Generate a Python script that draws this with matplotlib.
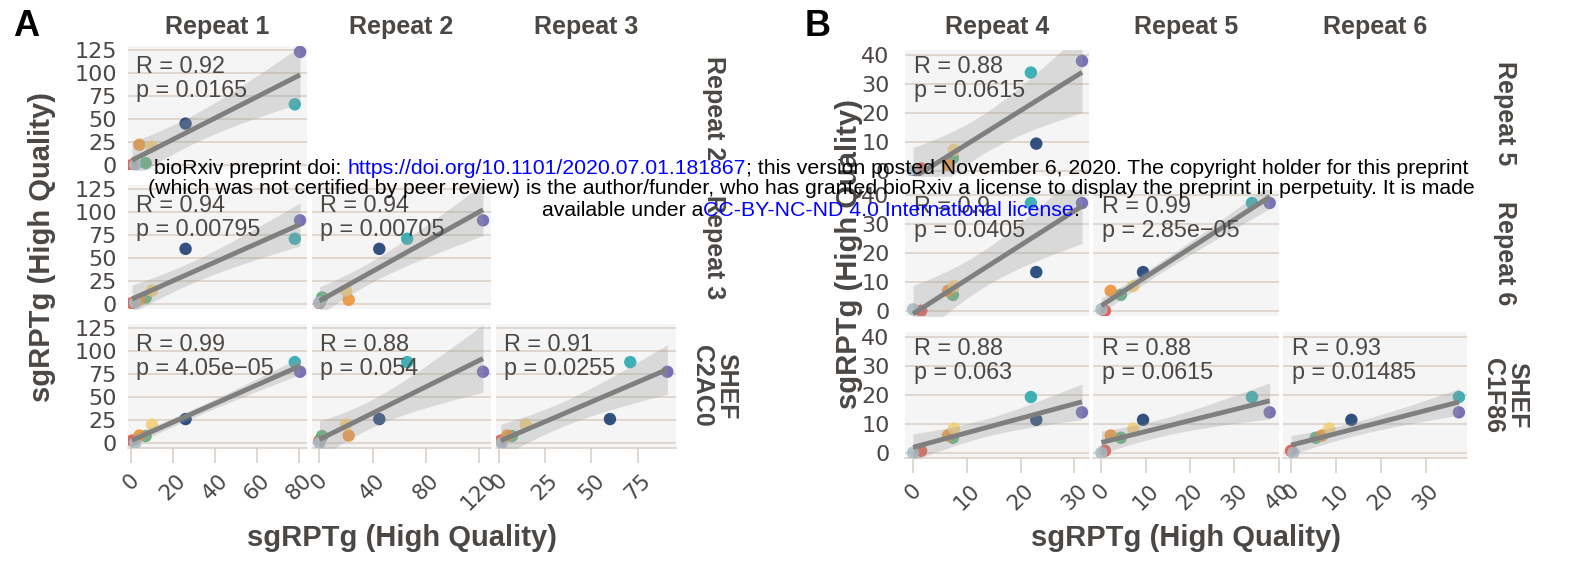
# pairs plot: sgRPTg high-quality repeats, panels A and B
import numpy as np
import matplotlib
matplotlib.use("Agg")
import matplotlib.pyplot as plt

plt.rcParams["font.family"] = ["Liberation Sans", "DejaVu Sans"]

W, H = 1581, 564

# ------------------------------------------------------------
# Data (one value per sample, same order as point_colors)
# ------------------------------------------------------------
point_colors = ["#E0574B", "#5BAD78", "#EE9437", "#F4CF7A",
                "#A9BCC4", "#1D3F73", "#2BA9B0", "#6B63B1"]

rep1 = [0.5, 7, 4, 10, 2, 26, 78, 80.5]
rep2 = [0, 2, 22, 20, 0, 45, 66, 123]
rep3 = [1, 7, 4.5, 14.5, 1.5, 60, 71, 91]
shef_c2ac0 = [2.5, 7.5, 8, 20, 0, 26, 88, 77.5]

rep4 = [1.5, 7.4, 6.5, 7.6, 0, 22.9, 21.9, 31.4]
rep5 = [0.8, 4.4, 2.1, 7.2, 0, 9.4, 34, 38]
rep6 = [0, 5.5, 6.9, 8.5, 0.5, 13.4, 37.3, 37.3]
shef_c1f86 = [0.7, 5.2, 6, 8.4, 0, 11.4, 19.3, 14]

col_titles_a = ["Repeat 1", "Repeat 2", "Repeat 3"]
row_titles_a = ["Repeat 2", "Repeat 3", "SHEF\nC2AC0"]
col_titles_b = ["Repeat 4", "Repeat 5", "Repeat 6"]
row_titles_b = ["Repeat 5", "Repeat 6", "SHEF\nC1F86"]

# (row, col) -> (R, p) labels
stats_a = {
    (0, 0): ("0.92", "0.0165"),
    (1, 0): ("0.94", "0.00795"),
    (1, 1): ("0.94", "0.00705"),
    (2, 0): ("0.99", "4.05e\u221205"),
    (2, 1): ("0.88", "0.054"),
    (2, 2): ("0.91", "0.0255"),
}
stats_b = {
    (0, 0): ("0.88", "0.0615"),
    (1, 0): ("0.9", "0.0405"),
    (1, 1): ("0.99", "2.85e\u221205"),
    (2, 0): ("0.88", "0.063"),
    (2, 1): ("0.88", "0.0615"),
    (2, 2): ("0.93", "0.01485"),
}

xticks_a = [[0, 20, 40, 60, 80], [0, 40, 80, 120], [0, 25, 50, 75]]
yticks_a = [0, 25, 50, 75, 100, 125]
xticks_b = [[0, 10, 20, 30], [0, 10, 20, 30, 40], [0, 10, 20, 30]]
yticks_b = [0, 10, 20, 30, 40]

# ------------------------------------------------------------
# Style / layout (pixels)
# ------------------------------------------------------------
TXT = "#4b4745"
GRID = "#d9cec4"
BG = "#f5f5f5"
TICK_FONT = "DejaVu Sans"   # wide digits, closer to the original

cols_a = [(128, 307), (312, 491), (496, 676)]
rows_a = [(46, 170), (185, 309), (324, 448)]
xlims_a = [(-1.4, 83.8), (-5.6, 129.0), (-1.6, 95.7)]
ylim_a = (-5.5, 129.5)

cols_b = [(905, 1089), (1093, 1279), (1283, 1467)]
rows_b = [(50, 176), (190, 316), (332, 458)]
xlims_b = [(-1.5, 32.7), (-1.9, 40.1), (-1.8, 39.1)]
ylim_b = (-1.8, 41.8)


def px_axes(fig, xr, yr):
    x0, x1 = xr
    y0, y1 = yr
    return fig.add_axes([x0 / W, 1 - y1 / H, (x1 - x0) / W, (y1 - y0) / H])


def lm_band(x, y, n=80):
    x = np.asarray(x, float)
    y = np.asarray(y, float)
    b1, b0 = np.polyfit(x, y, 1)
    xs = np.linspace(x.min(), x.max(), n)
    fit = b0 + b1 * xs
    resid = y - (b0 + b1 * x)
    s = np.sqrt(np.sum(resid ** 2) / (len(x) - 2))
    se = s * np.sqrt(1 / len(x) + (xs - x.mean()) ** 2 / np.sum((x - x.mean()) ** 2))
    t = 2.447  # t(0.975, df=6)
    return xs, fit, fit - t * se, fit + t * se


def draw_block(fig, variables, cols, rows, xlims, ylim, xticks, yticks,
               stats, ypad, txt_off):
    for i in range(3):
        for j in range(i + 1):
            ax = px_axes(fig, cols[j], rows[i])
            x = variables[j]
            y = variables[i + 1]
            ax.set_facecolor(BG)
            ax.scatter(x, y, s=80, c=point_colors, alpha=0.9,
                       linewidths=0, zorder=3)
            xs, fit, lo, hi = lm_band(x, y)
            ax.fill_between(xs, lo, hi, color="#9a9a9a", alpha=0.3,
                            linewidth=0, zorder=4)
            ax.plot(xs, fit, color="#7f7f7f", lw=3.5, zorder=5,
                    solid_capstyle="butt")
            ax.set_xlim(xlims[j])
            ax.set_ylim(ylim)
            ax.set_yticks(yticks)
            ax.set_xticks(xticks[j])
            ax.grid(axis="y", color=GRID, lw=1.1)
            ax.grid(axis="x", visible=False)
            ax.set_axisbelow(True)
            for sp in ax.spines.values():
                sp.set_visible(False)
            ax.tick_params(axis="y", length=0, pad=ypad, labelsize=16,
                           labelcolor=TXT, labelleft=(j == 0))
            for lab in ax.get_yticklabels():
                lab.set_family(TICK_FONT)
            if i == 2:
                ax.spines["bottom"].set_visible(True)
                ax.spines["bottom"].set_color(GRID)
                ax.spines["bottom"].set_linewidth(1.1)
                ax.tick_params(axis="x", length=11, width=1.1, color=GRID,
                               pad=5, labelsize=15.5, labelcolor=TXT,
                               labelrotation=45)
                for lab in ax.get_xticklabels():
                    lab.set_ha("center")
                    lab.set_family(TICK_FONT)
            else:
                ax.tick_params(axis="x", length=0, labelbottom=False)
            r, p = stats[(i, j)]
            h = rows[i][1] - rows[i][0]
            tx = txt_off[0] / (cols[j][1] - cols[j][0])
            ax.text(tx, 1 - txt_off[1] / h, f"R = {r}", transform=ax.transAxes,
                    fontsize=16.8, color=TXT, va="baseline", ha="left", zorder=6)
            ax.text(tx, 1 - txt_off[2] / h, f"p = {p}", transform=ax.transAxes,
                    fontsize=16.8, color=TXT, va="baseline", ha="left", zorder=6)


def fig_text(fig, x, y, s, **kw):
    return fig.text(x / W, 1 - y / H, s, **kw)


def adv_width(fig, s, size):
    r = fig.canvas.get_renderer()
    t1 = fig.text(0, 0, "|" + s + "|", fontsize=size)
    t2 = fig.text(0, 0, "||", fontsize=size)
    w = t1.get_window_extent(r).width - t2.get_window_extent(r).width
    t1.remove()
    t2.remove()
    return w


def colored_line(fig, xc, y, parts, size=15.3):
    widths = [adv_width(fig, s, size) for s, _ in parts]
    x = xc - sum(widths) / 2
    for (s, c), w in zip(parts, widths):
        fig_text(fig, x, y, s, color=c, fontsize=size, ha="left",
                 va="center", zorder=20)
        x += w


def main():
    fig = plt.figure(figsize=(W / 100, H / 100), dpi=100)

    draw_block(fig, [rep1, rep2, rep3, shef_c2ac0], cols_a, rows_a, xlims_a,
               ylim_a, xticks_a, yticks_a, stats_a, 8, (8, 27, 51))
    draw_block(fig, [rep4, rep5, rep6, shef_c1f86], cols_b, rows_b, xlims_b,
               ylim_b, xticks_b, yticks_b, stats_b, 11, (9, 23, 47))

    strip = dict(fontsize=18, fontweight="bold", color=TXT, ha="center",
                 va="center")
    for cols, rows, ctitles, rtitles, rx in [
        (cols_a, rows_a, col_titles_a, row_titles_a, 714),
        (cols_b, rows_b, col_titles_b, row_titles_b, 1505),
    ]:
        for (x0, x1), t in zip(cols, ctitles):
            fig_text(fig, (x0 + x1) / 2, 27, t, **strip)
        for (y0, y1), t in zip(rows, rtitles):
            fig_text(fig, rx, (y0 + y1) / 2, t, rotation=-90,
                     multialignment="center", linespacing=1.0, **strip)

    title = dict(fontsize=21, fontweight="bold", color=TXT, ha="center",
                 va="center")
    fig_text(fig, 402, 538, "sgRPTg (High Quality)", **title)
    fig_text(fig, 1186, 538, "sgRPTg (High Quality)", **title)
    fig_text(fig, 42, 247, "sgRPTg (High Quality)", rotation=90, **title)
    fig_text(fig, 849, 254, "sgRPTg (High Quality)", rotation=90, **title)

    fig_text(fig, 26, 27, "A", fontsize=26, fontweight="bold", ha="center",
             va="center")
    fig_text(fig, 818, 27, "B", fontsize=26, fontweight="bold", ha="center",
             va="center")

    # bioRxiv watermark
    blue = "#0000ff"
    colored_line(fig, 811, 168, [
        ("bioRxiv preprint doi: ", "black"),
        ("https://doi.org/10.1101/2020.07.01.181867", blue),
        ("; this version posted November 6, 2020. The copyright holder for this preprint", "black"),
    ])
    colored_line(fig, 811, 189, [
        ("(which was not certified by peer review) is the author/funder, who has granted bioRxiv a license to display the preprint in perpetuity. It is made", "black"),
    ])
    colored_line(fig, 811, 211, [
        ("available under a", "black"),
        ("CC-BY-NC-ND 4.0 International license", blue),
        (".", "black"),
    ])

    fig.savefig("out.png", dpi=100)


if __name__ == "__main__":
    main()
